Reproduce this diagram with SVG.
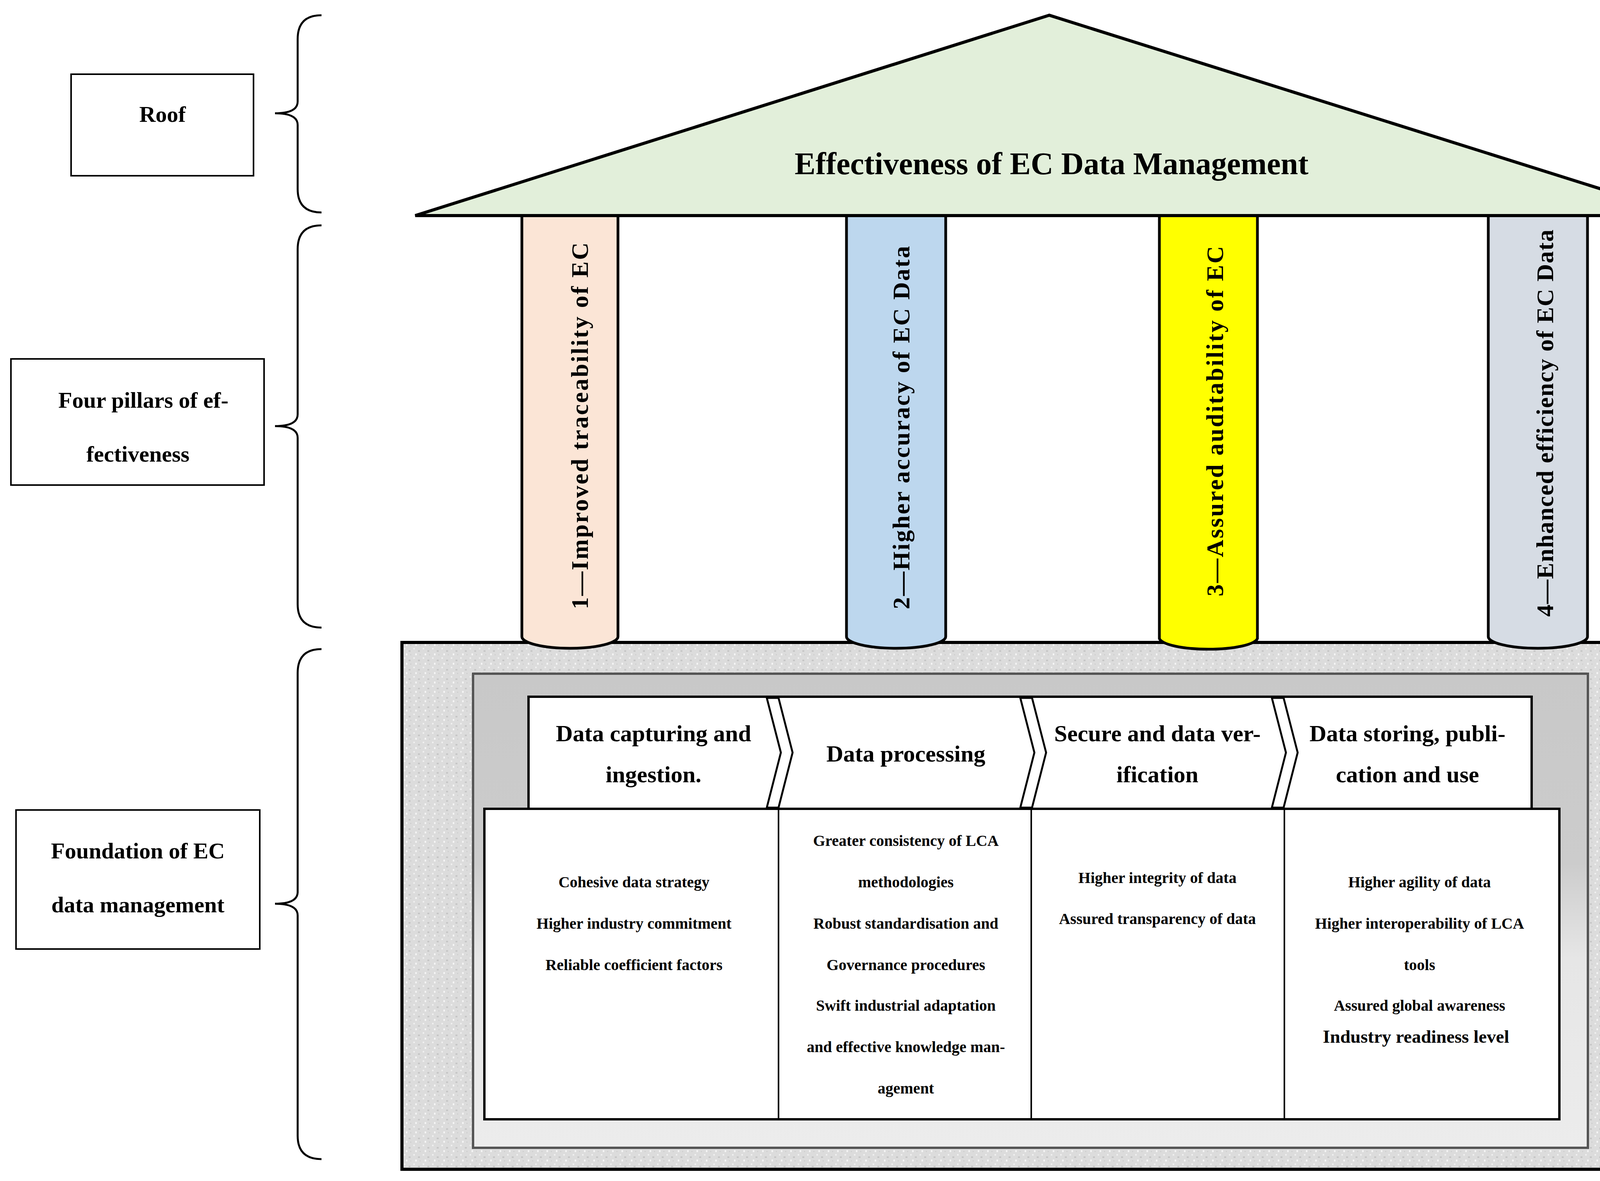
<svg xmlns="http://www.w3.org/2000/svg" width="4329" height="3024" viewBox="0 0 4329 3024">
<style>
text{font-family:"Liberation Serif","DejaVu Serif",serif;fill:#000}
.lbl{font-size:58px;text-anchor:middle;font-weight:bold}
.hd{font-size:60px;text-anchor:middle;font-weight:bold}
.ct{font-size:40px;font-weight:bold;text-anchor:middle}
.pl{font-size:62px;font-weight:bold}
.blk{stroke:#000;stroke-width:8}
.br{fill:none;stroke:#000;stroke-width:5}
</style>
<defs>
<pattern id="tex" width="24" height="24" patternUnits="userSpaceOnUse">
<rect width="24" height="24" fill="#dcdcdc"/>
<rect x="2" y="3" width="4" height="4" fill="#efefef"/>
<rect x="14" y="9" width="5" height="4" fill="#c6c6c6"/>
<rect x="7" y="17" width="4" height="5" fill="#f4f4f4"/>
<rect x="18" y="19" width="3" height="3" fill="#cfcfcf"/>
</pattern>
<linearGradient id="inner" x1="0" y1="0" x2="0" y2="1">
<stop offset="0" stop-color="#c8c8c8"/><stop offset="0.4" stop-color="#cccccc"/><stop offset="0.6" stop-color="#e6e6e6"/><stop offset="1" stop-color="#ececec"/>
</linearGradient>
</defs>
<rect width="4329" height="3024" fill="#fff"/>

<g id="braces">
<path class="br" d="M823,39 Q762,39 762,100 L762,260 Q762,290 704,290 Q762,290 762,320 L762,484 Q762,544 823,544"/>
<path class="br" d="M823,577 Q762,577 762,638 L762,1061 Q762,1091 704,1091 Q762,1091 762,1121 L762,1547 Q762,1607 823,1607"/>
<path class="br" d="M823,1662 Q762,1662 762,1723 L762,2284 Q762,2314 704,2314 Q762,2314 762,2344 L762,2908 Q762,2968 823,2968"/>
</g>

<g id="label-roof"><rect x="182" y="190" width="467" height="260" fill="#fff" stroke="#000" stroke-width="4"/><text class="lbl" x="416" y="312">Roof</text></g>
<g id="label-pillars"><rect x="28" y="919" width="648" height="323" fill="#fff" stroke="#000" stroke-width="4"/><text class="lbl" x="367" y="1044">Four pillars of ef-</text><text class="lbl" x="353" y="1182">fectiveness</text></g>
<g id="label-foundation"><rect x="41" y="2074" width="624" height="356" fill="#fff" stroke="#000" stroke-width="4"/><text class="lbl" x="353" y="2198">Foundation of EC</text><text class="lbl" x="353" y="2336">data management</text></g>

<g id="foundation">
<rect x="1029" y="1645" width="3268" height="1349" fill="url(#tex)" class="blk"/>
<rect x="1211" y="1725" width="2854" height="1214" fill="url(#inner)" stroke="#555" stroke-width="6"/>
</g>

<g id="pillar1"><path d="M1336,552 V1630 A123,30 0 0 0 1582,1630 V552 Z" fill="#FBE5D6" stroke="#000" stroke-width="7"/><text class="pl" transform="translate(1505,1560) rotate(-90)" textLength="939" lengthAdjust="spacing">1—Improved traceability of EC</text></g>
<g id="pillar2"><path d="M2167,552 V1630 A127,30 0 0 0 2421,1630 V552 Z" fill="#BDD7EE" stroke="#000" stroke-width="7"/><text class="pl" transform="translate(2328,1560) rotate(-90)" textLength="930" lengthAdjust="spacing">2—Higher accuracy of EC Data</text></g>
<g id="pillar3"><path d="M2968,552 V1635 A126,30 0 0 0 3219,1635 V552 Z" fill="#FFFF00" stroke="#000" stroke-width="7"/><text class="pl" transform="translate(3131,1527) rotate(-90)" textLength="897" lengthAdjust="spacing">3—Assured auditability of EC</text></g>
<g id="pillar4"><path d="M3810,552 V1630 A127,30 0 0 0 4064,1630 V552 Z" fill="#D6DCE4" stroke="#000" stroke-width="7"/><text class="pl" transform="translate(3976,1579) rotate(-90)" textLength="991" lengthAdjust="spacing">4—Enhanced efficiency of EC Data</text></g>

<g id="roof"><polygon points="2686,39 1063,552 4315,552" fill="#E2EFDA" stroke="#000" stroke-width="8"/><text x="2692" y="446" font-size="80" font-weight="bold" text-anchor="middle">Effectiveness of EC Data Management</text></g>

<g id="headers">
<rect x="1353" y="1784" width="2568" height="287" fill="#fff" stroke="#000" stroke-width="6"/>
<text class="hd" x="1673" y="1898">Data capturing and</text><text class="hd" x="1673" y="2003">ingestion.</text>
<text class="hd" x="2319" y="1950">Data processing</text>
<text class="hd" x="2963" y="1898">Secure and data ver-</text><text class="hd" x="2963" y="2003">ification</text>
<text class="hd" x="3603" y="1898">Data storing, publi-</text><text class="hd" x="3603" y="2003">cation and use</text>
</g>

<g id="connectors" fill="#fff" stroke="#000" stroke-width="5">
<path d="M1963,1787 H1993 L2029,1927 L1993,2068 H1963 L1999,1927 Z"/>
<path d="M2612,1787 H2642 L2678,1927 L2642,2068 H2612 L2648,1927 Z"/>
<path d="M3256,1787 H3286 L3322,1927 L3286,2068 H3256 L3292,1927 Z"/>
</g>

<g id="content">
<rect x="1240" y="2071" width="2752" height="795" fill="#fff" stroke="#000" stroke-width="6"/>
<line x1="1993" y1="2071" x2="1993" y2="2866" stroke="#000" stroke-width="4"/>
<line x1="2640" y1="2071" x2="2640" y2="2866" stroke="#000" stroke-width="4"/>
<line x1="3288" y1="2071" x2="3288" y2="2866" stroke="#000" stroke-width="4"/>
<text class="ct" x="1623" y="2272">Cohesive data strategy</text>
<text class="ct" x="1623" y="2378">Higher industry commitment</text>
<text class="ct" x="1623" y="2484">Reliable coefficient factors</text>
<text class="ct" x="2319" y="2166">Greater consistency of LCA</text>
<text class="ct" x="2319" y="2272">methodologies</text>
<text class="ct" x="2319" y="2378">Robust standardisation and</text>
<text class="ct" x="2319" y="2484">Governance procedures</text>
<text class="ct" x="2319" y="2588">Swift industrial adaptation</text>
<text class="ct" x="2319" y="2694">and effective knowledge man-</text>
<text class="ct" x="2319" y="2800">agement</text>
<text class="ct" x="2963" y="2261">Higher integrity of data</text>
<text class="ct" x="2963" y="2366">Assured transparency of data</text>
<text class="ct" x="3634" y="2272">Higher agility of data</text>
<text class="ct" x="3634" y="2378">Higher interoperability of LCA</text>
<text class="ct" x="3634" y="2484">tools</text>
<text class="ct" x="3634" y="2588">Assured global awareness</text>
<text x="3625" y="2670" font-size="47" font-weight="bold" text-anchor="middle">Industry readiness level</text>
</g>
</svg>
